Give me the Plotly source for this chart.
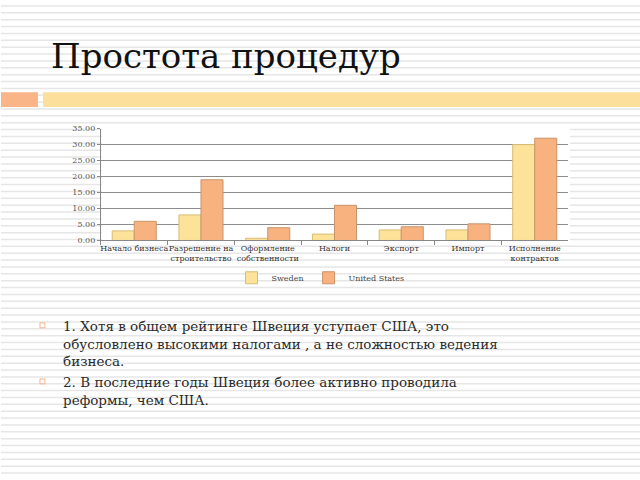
import plotly.graph_objects as go

categories = ["Начало бизнеса", "Разрешение на<br>строительство", "Оформление<br>собственности",
              "Налоги", "Экспорт", "Импорт", "Исполнение<br>контрактов"]
sweden = [3, 8, 0.7, 2, 3.3, 3.3, 30]
usa = [6, 19, 4, 11, 4.3, 5.2, 32]
y_ticks = [0, 5, 10, 15, 20, 25, 30, 35]

title_text = "Простота процедур"
bullet_paragraphs = [
    ["1. Хотя в общем рейтинге Швеция уступает США, это",
     "обусловлено высокими налогами , а не сложностью ведения",
     "бизнеса."],
    ["2. В последние годы Швеция более активно проводила",
     "реформы, чем США."],
]

W, H = 640, 480
SERIF = "DejaVu Serif"

fig = go.Figure()
fig.add_trace(go.Bar(name="Sweden", x=categories, y=sweden,
                     marker=dict(color="#FDE29A", line=dict(color="#D8BC74", width=1))))
fig.add_trace(go.Bar(name="United States", x=categories, y=usa,
                     marker=dict(color="#F8B280", line=dict(color="#C9946A", width=1))))

def px_x(x):
    return x / W

def px_y(y):
    return 1 - y / H

shapes = []
y = 2
while y < H:
    shapes.append(dict(type="line", xref="paper", yref="paper", x0=0, x1=1,
                       y0=px_y(y), y1=px_y(y), line=dict(color="#E6E6E6", width=1.5), layer="below"))
    y += 7
shapes.append(dict(type="rect", xref="paper", yref="paper", x0=px_x(101), x1=px_x(570),
                   y0=px_y(242), y1=px_y(124), fillcolor="white", line=dict(width=0), layer="below"))
shapes.append(dict(type="rect", xref="paper", yref="paper", x0=0, x1=px_x(37),
                   y0=px_y(105), y1=px_y(90), fillcolor="#F9B587", line=dict(width=0), layer="below"))
shapes.append(dict(type="rect", xref="paper", yref="paper", x0=px_x(42), x1=1,
                   y0=px_y(105), y1=px_y(90), fillcolor="#FDDF9C", line=dict(width=0), layer="below"))

annotations = [dict(text=title_text, xref="paper", yref="paper", x=px_x(48), y=px_y(53),
                    xanchor="left", yanchor="middle", showarrow=False,
                    font=dict(family=SERIF, size=34, color="#111111"))]

BODY_SIZE = 13.5
LINE_H = BODY_SIZE * 1.3
top_y = 328
for para in bullet_paragraphs:
    shapes.append(dict(type="rect", xref="paper", yref="paper", x0=px_x(39), x1=px_x(44),
                       y0=px_y(top_y + 2), y1=px_y(top_y - 3), fillcolor="rgba(0,0,0,0)",
                       line=dict(color="#F4B48A", width=1), layer="above"))
    center = top_y + LINE_H * (len(para) - 1) / 2
    annotations.append(dict(text="<br>".join(para), xref="paper", yref="paper",
                            x=px_x(60), y=px_y(center), xanchor="left", yanchor="middle",
                            align="left", showarrow=False,
                            font=dict(family=SERIF, size=BODY_SIZE, color="#2a2a2a")))
    top_y += LINE_H * len(para) + 4.5

fig.update_layout(
    width=W, height=H,
    margin=dict(l=0, r=0, t=0, b=0),
    paper_bgcolor="white",
    plot_bgcolor="rgba(0,0,0,0)",
    barmode="group",
    bargap=0.34,
    bargroupgap=0,
    shapes=shapes,
    annotations=annotations,
    showlegend=True,
    legend=dict(orientation="h", x=0.5, xanchor="center", y=px_y(279), yanchor="middle",
                font=dict(family=SERIF, size=8, color="#444444"),
                bgcolor="rgba(0,0,0,0)", itemwidth=30, tracegroupgap=0),
    xaxis=dict(domain=[px_x(100), px_x(568)], showline=True, linecolor="#888888", linewidth=1,
               ticks="outside", tickson="boundaries", ticklen=4, tickcolor="#888888",
               tickfont=dict(family=SERIF, size=8, color="#333333"), tickangle=0,
               anchor="y", showgrid=False),
    yaxis=dict(domain=[px_y(241), px_y(127)], range=[0, 35], tickvals=y_ticks,
               tickformat=".2f", showgrid=True, gridcolor="#8c8c8c", gridwidth=1.2,
               showline=True, linecolor="#888888", linewidth=1, ticks="outside",
               ticklen=3, tickcolor="#888888", zeroline=False,
               tickfont=dict(family=SERIF, size=8, color="#555555")),
)

fig.write_html("out.html")
